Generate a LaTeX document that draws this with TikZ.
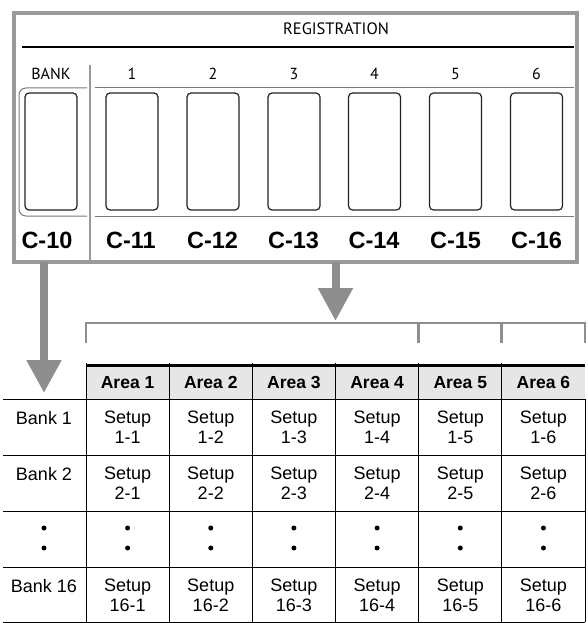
\documentclass[tikz,border=0pt]{standalone}
\usepackage{fontspec}
\setmainfont{Liberation Sans}
\newfontfamily\dinfont{PT Sans}
\usetikzlibrary{arrows.meta}
\definecolor{panelgray}{HTML}{9A9A9A}
\definecolor{arrowgray}{HTML}{8E8E8E}
\definecolor{linegray}{HTML}{7A7A7A}
\definecolor{hdrfill}{HTML}{E6E6E6}
\definecolor{btnline}{HTML}{222222}
\tikzset{
  panelbox/.style={draw=panelgray, line width=4pt, inner sep=0pt, anchor=north west},
  btn/.style={draw=btnline, line width=1.2pt, rounded corners=4pt, minimum width=52pt, minimum height=117pt, inner sep=0pt},
  toplabel/.style={font=\dinfont\fontsize{16}{18}\selectfont, anchor=base, inner sep=0pt},
  clabel/.style={font=\bfseries\fontsize{23.5}{26}\selectfont, anchor=base, inner sep=0pt},
  thinline/.style={draw=linegray, line width=1pt},
  bigarrow/.style={draw=arrowgray, line width=8pt, -{Triangle[width=33pt,length=33pt]}, color=arrowgray},
  bracket/.style={draw=arrowgray, line width=2.7pt},
  cell/.style={font=\fontsize{18}{20}\selectfont, align=center, inner sep=0pt},
  hdrtext/.style={font=\bfseries\fontsize{17.5}{20}\selectfont, inner sep=0pt},
  gridline/.style={draw=black, line width=1pt},
  dotc/.style={fill=black, circle, inner sep=0pt, minimum size=5pt},
}
\begin{document}
\begin{tikzpicture}[x=1pt,y=-1pt]
\useasboundingbox (0,0) rectangle (588,623);
% ---------- panel ----------
\node[panelbox, minimum width=563pt, minimum height=249pt] (panel) at (12,11) {};
\node[toplabel, font=\dinfont\fontsize{16.5}{18}\selectfont] (reg) at (336,35) {REGISTRATION};
\draw[line width=1.4pt] (22,47) -- (574,47);
\draw[draw=panelgray, line width=2pt] (90,65) -- (90,260);
% button rows' frame lines
\draw[thinline, rounded corners=7pt] (87,88) -- (19,88) -- (19,216) -- (87,216);
\draw[thinline] (95,88) -- (574,88);
\draw[thinline] (95,216) -- (574,216);
% top labels
\node[toplabel] (lbank) at (51,80) {BANK};
\foreach \i/\x in {1/132,2/213,3/294,4/374.5,5/455.5,6/536.5}{
  \node[toplabel] (l\i) at (\x,80) {\i};
}
% buttons
\node[btn] (bbank) at (51,151.5) {};
\foreach \i/\x in {1/132,2/213,3/294,4/374.5,5/455.5,6/536.5}{
  \node[btn] (b\i) at (\x,151.5) {};
}
% C labels
\node[clabel] (c10) at (47,248) {C-10};
\foreach \i/\x in {1/131,2/212.5,3/293.5,4/374,5/455.5,6/536.5}{
  \node[clabel] (c1\i) at (\x,248) {C-1\i};
}
% ---------- arrows ----------
\coordinate (lsrc) at (44,262);
\coordinate (ltip) at (44,393);
\coordinate (rsrc) at (335.5,262);
\coordinate (rtip) at (335.5,321);
\draw[bigarrow] (lsrc) -- (ltip);
\draw[bigarrow] (rsrc) -- (rtip);
% bracket
\draw[bracket] (86,343) -- (86,323) -- (585,323) -- (585,343);
\draw[bracket] (418.7,323) -- (418.7,343);
\draw[bracket] (501.8,323) -- (501.8,343);
% ---------- table ----------
\fill[hdrfill] (86,365) rectangle (585,399);
\draw[line width=3pt] (86,365) -- (585,365);
% horizontal lines
\foreach \y in {399,455,511,567,622}{
  \draw[gridline] (3,\y) -- (585,\y);
}
% vertical lines
\foreach \x in {86,169.2,252.3,335.5,418.7,501.8}{
  \draw[gridline] (\x,363) -- (\x,622);
}
\draw[gridline] (585,399) -- (585,622);
% headers
\foreach \k in {1,...,6}{
  \pgfmathsetmacro\cx{86+83.17*(\k-0.5)}
  \node[hdrtext, anchor=base] (h\k) at (\cx,388) {Area \k};
}
% bank labels
\node[cell, anchor=base] (bank1) at (44,424) {Bank 1};
\node[cell, anchor=base] (bank2) at (44,480) {Bank 2};
\node[cell, anchor=base] (bank16) at (44,592) {Bank 16};
\node[dotc] (dk1) at (44,528) {};
\node[dotc] (dk2) at (44,548) {};
% setups
\foreach \k in {1,...,6}{
  \pgfmathsetmacro\cx{86+83.17*(\k-0.5)}
  \node[cell] (s1\k) at (\cx,427) {Setup\\1-\k};
  \node[cell] (s2\k) at (\cx,483) {Setup\\2-\k};
  \node[dotc] (da\k) at (\cx,528) {};
  \node[dotc] (db\k) at (\cx,548) {};
  \node[cell] (s16\k) at (\cx,595) {Setup\\16-\k};
}
\end{tikzpicture}
\end{document}
